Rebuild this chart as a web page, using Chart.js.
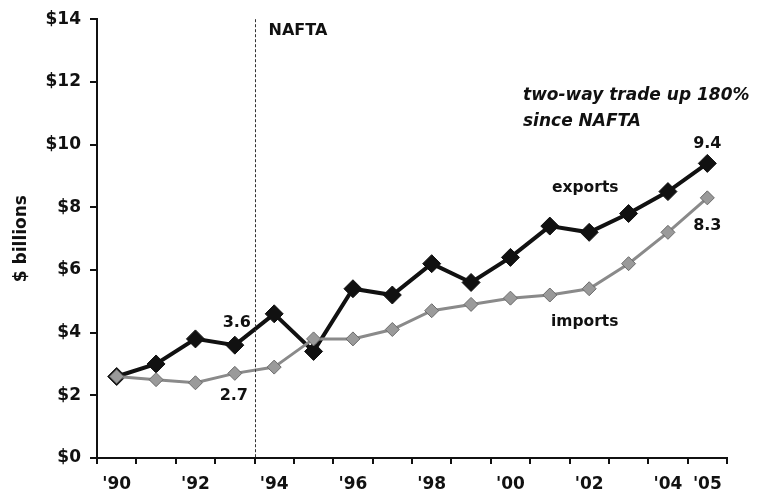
<!DOCTYPE html>
<html>
<head>
<meta charset="utf-8">
<script src="https://cdn.jsdelivr.net/npm/chart.js@4/dist/chart.umd.min.js"></script>
<style>
  body { margin: 0; background: #fff; }
  #wrap { width: 765px; height: 504px; position: relative; }
</style>
</head>
<body>
<div id="wrap"><canvas id="chart"></canvas></div>
<script>
const YEARS = ['1990','1991','1992','1993','1994','1995','1996','1997','1998','1999','2000','2001','2002','2003','2004','2005'];
const TICK_LABELS = ["'90", '', "'92", '', "'94", '', "'96", '', "'98", '', "'00", '', "'02", '', "'04", "'05"];
const EXPORTS = [2.6, 3.0, 3.8, 3.6, 4.6, 3.4, 5.4, 5.2, 6.2, 5.6, 6.4, 7.4, 7.2, 7.8, 8.5, 9.4];
const IMPORTS = [2.6, 2.5, 2.4, 2.7, 2.9, 3.8, 3.8, 4.1, 4.7, 4.9, 5.1, 5.2, 5.4, 6.2, 7.2, 8.3];
const Y_TICKS = [0, 2, 4, 6, 8, 10, 12, 14];

const FONT = '"DejaVu Sans", sans-serif';

/* ── annotations: NAFTA line + text ─────────────────────── */
const annotations = {
    id: 'annotations',
    afterDatasetsDraw(chart) {
        const { ctx, chartArea, scales: { x, y } } = chart;
        const naftaX = Math.round((x.getPixelForValue(3) + x.getPixelForValue(4)) / 2) + 0.5;

        ctx.save();
        ctx.strokeStyle = '#333';
        ctx.lineWidth = 1;
        ctx.setLineDash([3, 2]);
        ctx.beginPath();
        ctx.moveTo(naftaX, chartArea.top);
        ctx.lineTo(naftaX, chartArea.bottom);
        ctx.stroke();
        ctx.setLineDash([]);

        ctx.fillStyle = '#111';
        ctx.textBaseline = 'middle';
        ctx.textAlign = 'left';
        ctx.font = `bold 16px ${FONT}`;
        ctx.fillText('NAFTA', naftaX + 13, 31);

        ctx.font = `italic bold 17px ${FONT}`;
        ctx.fillText('two-way trade up 180%', 523, 96);
        ctx.fillText('since NAFTA', 523, 122);

        ctx.font = `bold 15.5px ${FONT}`;
        ctx.fillText('exports', 552, 188);
        ctx.fillText('imports', 551, 322);

        ctx.font = `bold 16px ${FONT}`;
        ctx.textAlign = 'center';
        ctx.fillText('9.4', x.getPixelForValue(15), y.getPixelForValue(EXPORTS[15]) - 20);
        ctx.fillText('8.3', x.getPixelForValue(15), y.getPixelForValue(IMPORTS[15]) + 28);
        ctx.fillText('3.6', x.getPixelForValue(3) + 2, y.getPixelForValue(EXPORTS[3]) - 22);
        ctx.fillText('2.7', x.getPixelForValue(3) - 1, y.getPixelForValue(IMPORTS[3]) + 22);
        ctx.restore();
    }
};

new Chart(document.getElementById('chart'), {
    type: 'line',
    data: {
        labels: YEARS,
        datasets: [
            {
                label: 'imports',
                data: IMPORTS,
                borderColor: '#8a8a8a',
                borderWidth: 3,
                pointStyle: 'rectRot',
                pointRadius: 7,
                pointBackgroundColor: '#9a9a9a',
                pointBorderColor: '#6a6a6a',
                pointBorderWidth: 1,
                tension: 0,
            },
            {
                label: 'exports',
                data: EXPORTS,
                borderColor: '#111',
                borderWidth: 4,
                pointStyle: 'rectRot',
                pointRadius: 9,
                pointBackgroundColor: '#111',
                pointBorderColor: '#111',
                pointBorderWidth: 1,
                tension: 0,
            },
        ]
    },
    options: {
        responsive: true,
        maintainAspectRatio: false,
        animation: false,
        layout: { padding: { top: 13, right: 38, left: 0, bottom: 0 } },
        plugins: {
            legend: { display: false },
            tooltip: { enabled: false },
        },
        scales: {
            x: {
                type: 'category',
                offset: true,
                afterFit: s => { s.height = 46; },
                border: { display: true, color: '#111', width: 2 },
                grid: { display: true, offset: true, drawOnChartArea: false, color: '#111', lineWidth: 2, tickLength: 6 },
                ticks: {
                    autoSkip: false,
                    maxRotation: 0,
                    padding: 10,
                    color: '#111',
                    font: { family: FONT, size: 17, weight: 'bold' },
                    callback: (v, i) => TICK_LABELS[i],
                },
            },
            y: {
                min: 0,
                max: 14,
                afterFit: s => { s.width = 97; },
                afterBuildTicks: s => { s.ticks = Y_TICKS.map(v => ({ value: v })); },
                border: { display: true, color: '#111', width: 2 },
                grid: { display: true, drawOnChartArea: false, color: '#111', lineWidth: 2, tickLength: 7 },
                title: {
                    display: true,
                    text: '$ billions',
                    color: '#111',
                    font: { family: FONT, size: 17, weight: 'bold' },
                    padding: { top: 11, bottom: 0 },
                },
                ticks: {
                    padding: 9,
                    color: '#111',
                    font: { family: FONT, size: 17, weight: 'bold' },
                    callback: v => '$' + v,
                },
            },
        },
    },
    plugins: [annotations],
});
</script>
</body>
</html>
